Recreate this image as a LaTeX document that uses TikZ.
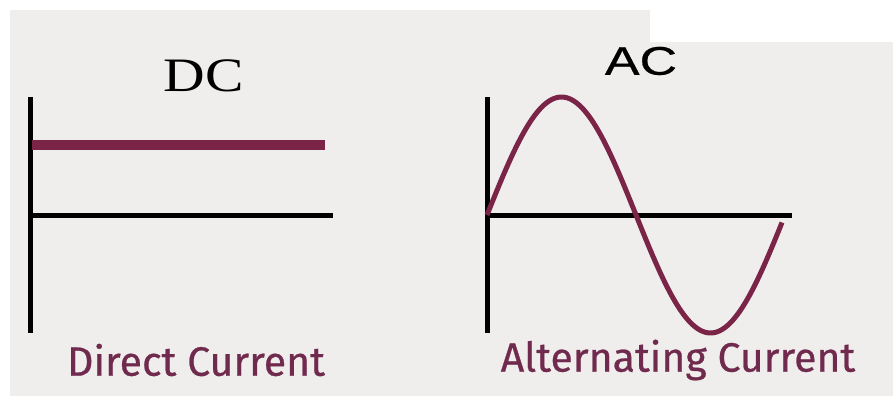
\documentclass[tikz,border=0pt]{standalone}
\usepackage{fontspec}
\setsansfont{Fira Sans}[FakeBold=0.6]
\newfontfamily\headfont{Liberation Sans}[FakeBold=0.5]
\newfontfamily\titlefont{Liberation Serif}
\usepackage{tikz}
\usetikzlibrary{positioning, calc}
\usepackage{xcolor}
\definecolor{wavered}{RGB}{122,36,72}
\definecolor{labelred}{RGB}{112,42,78}
\definecolor{paper}{RGB}{240,238,237}

\tikzset{
  axis/.style={line width=5pt},
  dcline/.style={wavered, line width=10pt},
  waveline/.style={wavered, line width=5pt, line join=round},
  caption/.style={labelred, font=\sffamily\fontsize{41}{43}\selectfont, inner sep=0pt},
}

\begin{document}
\begin{tikzpicture}[x=1pt,y=-1pt]
  \useasboundingbox (0,0) rectangle (893,396);
  \fill[paper] (10,10) rectangle (893,396);
  \fill[white] (650,0) rectangle (893,42);

  % DC graph
  \coordinate (dctop) at (30,97);
  \coordinate (dcbot) at (30,333);
  \coordinate (dcorig) at (30,215);
  \coordinate (dcend) at (333,215);
  \coordinate (dcstart) at (32,145);
  \coordinate (dcstop) at (325,145);
  \draw[axis] (dctop) -- (dcbot);
  \draw[axis] (dcorig) -- (dcend);
  \draw[dcline] (dcstart) -- (dcstop);
  \node[inner sep=0pt, font=\titlefont\fontsize{48}{50}\selectfont, xscale=1.2] (dctitle) at (204,76) {DC};
  \node[caption] (dclabel) at (196,360) {Direct Current};

  % AC graph
  \coordinate (actop) at (487,97);
  \coordinate (acbot) at (487,333);
  \coordinate (acorig) at (487,215);
  \coordinate (acend) at (792,215);
  \draw[axis] (actop) -- (acbot);
  \draw[axis] (acorig) -- (acend);
  \draw[waveline] plot[domain=0:295, samples=120, smooth] ({487+\x},{215-118*sin(\x/298*360)});
  \node[inner sep=0pt, font=\headfont\fontsize{40}{42}\selectfont, xscale=1.3] (actitle) at (641,61) {AC};
  \node[caption] (aclabel) at (678,360) {Alternating Current};
\end{tikzpicture}
\end{document}
